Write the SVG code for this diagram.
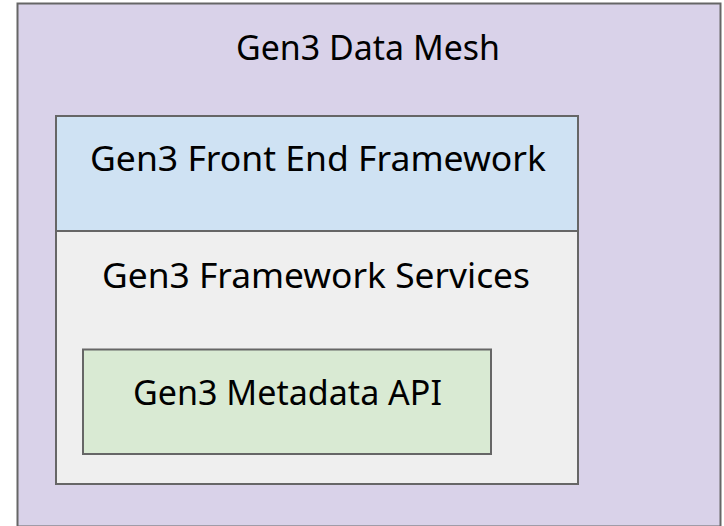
<svg xmlns="http://www.w3.org/2000/svg" width="724" height="526" viewBox="0 0 724 526">
<style>
.box{stroke:#666666;stroke-width:2}
.t{font-family:"Noto Sans","Open Sans",sans-serif;font-size:35px;fill:#000;text-anchor:middle}
</style>
<rect width="724" height="526" fill="#ffffff"/>
<g id="data-mesh">
<rect class="box" x="17.5" y="3.5" width="703" height="523" fill="#d9d2e9"/>
<text class="t" x="368" y="60" textLength="264" lengthAdjust="spacingAndGlyphs">Gen3 Data Mesh</text>
</g>
<g id="framework-services">
<rect class="box" x="56" y="231" width="522" height="253" fill="#efefef"/>
<text class="t" x="316" y="287.5" textLength="428" lengthAdjust="spacingAndGlyphs">Gen3 Framework Services</text>
</g>
<g id="front-end">
<rect class="box" x="56" y="116" width="522" height="115" fill="#cfe2f3"/>
<text class="t" x="318" y="171" textLength="456" lengthAdjust="spacingAndGlyphs">Gen3 Front End Framework</text>
</g>
<g id="metadata-api">
<rect class="box" x="83" y="349.5" width="408" height="104.5" fill="#d9ead3"/>
<text class="t" x="287.5" y="405" textLength="309" lengthAdjust="spacingAndGlyphs">Gen3 Metadata API</text>
</g>
<g id="connectors"/>
</svg>
